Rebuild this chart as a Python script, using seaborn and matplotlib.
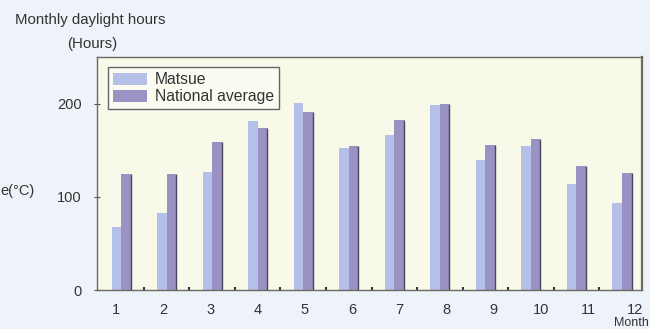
import numpy as np
import pandas as pd
import matplotlib
matplotlib.use("Agg")
import matplotlib.pyplot as plt
import seaborn as sns

# Monthly daylight hours
months = ["1", "2", "3", "4", "5", "6", "7", "8", "9", "10", "11", "12"]
matsue = [68, 83, 127, 181, 201, 152, 166, 199, 139, 154, 114, 93]
national = [125, 125, 159, 174, 191, 155, 182, 200, 156, 162, 133, 126]
series_names = ["Matsue", "National average"]
y_ticks = [0, 100, 200]

df = pd.DataFrame({
    "month": months * 2,
    "hours": matsue + national,
    "series": [series_names[0]] * len(months) + [series_names[1]] * len(months),
})

sns.set_theme(style="white")
plt.rcParams["font.family"] = ["Liberation Sans", "DejaVu Sans"]

text_color = "#333333"
colors = {"Matsue": "#b4c0e8", "National average": "#9a92c2"}

fig = plt.figure(figsize=(6.5, 3.29), dpi=100)
fig.patch.set_facecolor("#eef3fa")
ax = fig.add_axes([97 / 650, 1 - 290 / 329, (642 - 97) / 650, (290 - 57) / 329])
ax.set_facecolor("#f8f9e8")

sns.barplot(data=df, x="month", y="hours", hue="series", order=months,
            hue_order=series_names, palette=colors, width=0.42,
            saturation=1, gap=0, linewidth=0, ax=ax)

# darker right edge on the national-average bars
for patch in ax.containers[1]:
    x1 = patch.get_x() + patch.get_width()
    ax.plot([x1, x1], [0, patch.get_height()], color="#4a4560", lw=1.0,
            solid_capstyle="butt", zorder=3)

ax.set_xlim(-0.53, 11.44)
ax.set_ylim(0, 250)
ax.set_xlabel("")
ax.set_ylabel("")

# month labels
label_pos = np.arange(len(months)) * 1.037 - 0.11
ax.set_xticks(label_pos)
ax.set_xticklabels(months, fontsize=10.5, color=text_color)
ax.tick_params(axis="x", length=0, pad=9)
ax.set_xticks(np.arange(len(months) - 1) + 0.5, minor=True)
ax.tick_params(axis="x", which="minor", direction="in", length=2.5, width=1.5,
               color="#333333", bottom=True)

ax.set_yticks(y_ticks)
ax.set_yticklabels([str(v) for v in y_ticks], fontsize=10.5, color=text_color)
ax.tick_params(axis="y", direction="inout", length=4, width=0.8,
               color="#555555", pad=9, left=True)

for side, sp in ax.spines.items():
    sp.set_color("#6a6a62")
    sp.set_linewidth(1.0)
ax.spines["right"].set_linewidth(1.6)

leg = ax.legend(loc="upper left", bbox_to_anchor=(0.02, 0.955), fontsize=11.3,
                frameon=True, fancybox=False, handlelength=2.2,
                handleheight=0.8, handletextpad=0.5, labelspacing=0.12,
                borderpad=0.3, borderaxespad=0)
leg.get_frame().set_edgecolor("#666666")
leg.get_frame().set_facecolor("#fbfbf2")
leg.get_frame().set_linewidth(1.0)
leg.get_frame().set_alpha(1)
for t in leg.get_texts():
    t.set_color(text_color)

fig.text(15 / 650, 1 - 20 / 329, "Monthly daylight hours", fontsize=10.8,
         color=text_color, va="center", ha="left")
fig.text(67 / 650, 1 - 44 / 329, "(Hours)", fontsize=10.8,
         color=text_color, va="center", ha="left")
fig.text(0, 1 - 191 / 329, "e(°C)", fontsize=10.5,
         color=text_color, va="center", ha="left")
fig.text(649 / 650, 0.5 / 329, "Month", fontsize=9,
         color=text_color, va="bottom", ha="right")

fig.savefig("out.png", dpi=100, facecolor=fig.get_facecolor())
